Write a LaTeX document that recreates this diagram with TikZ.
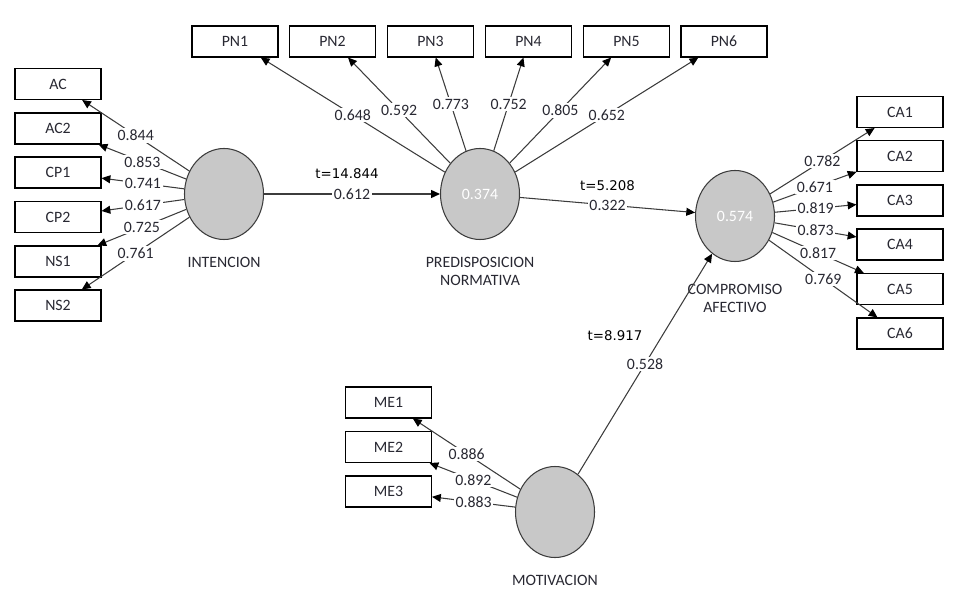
\documentclass[tikz,border=0pt]{standalone}
\usepackage{fontspec}
\setmainfont{Carlito}
\newfontfamily\tfont{DejaVu Sans}
\usepackage{xcolor}
\usetikzlibrary{shapes.geometric,arrows.meta,positioning}
\definecolor{latgray}{RGB}{200,200,200}
\definecolor{linegray}{RGB}{60,60,60}
\definecolor{textgray}{RGB}{40,40,50}

\begin{document}
\begin{tikzpicture}[
  ind/.style={rectangle, draw=black, line width=0.6pt, minimum width=1.72cm, minimum height=0.62cm, inner sep=0pt, text=textgray, font=\fontsize{9}{10}\selectfont},
  lat/.style={ellipse, draw=linegray, line width=0.6pt, fill=latgray, minimum width=1.58cm, minimum height=1.82cm, inner sep=0pt, text=white, font=\fontsize{9}{10}\selectfont},
  lname/.style={align=center, inner sep=1pt, text=textgray, font=\fontsize{9}{10.2}\selectfont},
  load/.style={-{Triangle[length=5pt,width=4.5pt,color=black]}, draw=linegray, line width=0.6pt},
  num/.style={fill=white, inner sep=1pt, text=textgray, font=\fontsize{9}{10}\selectfont},
  tval/.style={inner sep=1pt, text=black, font=\tfont\fontsize{7.6}{9}\selectfont}
]
\useasboundingbox (0,0) rectangle (19.26,-11.9);

% latent variables
\node[lat] (int) at (4.48,-3.88) {};
\node[lat] (pred) at (9.60,-3.88) {0.374};
\node[lat] (comp) at (14.70,-4.32) {0.574};
\node[lat] (mot) at (11.10,-10.24) {};
\node[lname, below=0.3cm of int] (intname) {INTENCION};
\node[lname, below=0.3cm of pred] (predname) {PREDISPOSICION\\NORMATIVA};
\node[lname, below=0.4cm of comp] (compname) {COMPROMISO\\AFECTIVO};
\node[lname, below=0.3cm of mot] (motname) {MOTIVACION};

% indicators
\node[ind] (ac) at (1.16,-1.68) {AC};
\node[ind] (ac2) at (1.16,-2.57) {AC2};
\node[ind] (cp1) at (1.16,-3.45) {CP1};
\node[ind] (cp2) at (1.16,-4.34) {CP2};
\node[ind] (ns1) at (1.16,-5.23) {NS1};
\node[ind] (ns2) at (1.16,-6.11) {NS2};

\node[ind] (pn1) at (4.70,-0.83) {PN1};
\node[ind] (pn2) at (6.65,-0.83) {PN2};
\node[ind] (pn3) at (8.61,-0.83) {PN3};
\node[ind] (pn4) at (10.57,-0.83) {PN4};
\node[ind] (pn5) at (12.53,-0.83) {PN5};
\node[ind] (pn6) at (14.48,-0.83) {PN6};

\node[ind] (ca1) at (18.00,-2.24) {CA1};
\node[ind] (ca2) at (18.00,-3.12) {CA2};
\node[ind] (ca3) at (18.00,-4.01) {CA3};
\node[ind] (ca4) at (18.00,-4.89) {CA4};
\node[ind] (ca5) at (18.00,-5.78) {CA5};
\node[ind] (ca6) at (18.00,-6.67) {CA6};

\node[ind] (me1) at (7.77,-8.05) {ME1};
\node[ind] (me2) at (7.77,-8.94) {ME2};
\node[ind] (me3) at (7.77,-9.83) {ME3};

% loadings
\draw[load] (int) -- node[num] {0.844} (ac);
\draw[load] (int) -- node[num] {0.853} (ac2);
\draw[load] (int) -- node[num] {0.741} (cp1);
\draw[load] (int) -- node[num] {0.617} (cp2);
\draw[load] (int) -- node[num] {0.725} (ns1);
\draw[load] (int) -- node[num] {0.761} (ns2);

\draw[load] (pred) -- node[num] {0.648} (pn1);
\draw[load] (pred) -- node[num] {0.592} (pn2);
\draw[load] (pred) -- node[num] {0.773} (pn3);
\draw[load] (pred) -- node[num] {0.752} (pn4);
\draw[load] (pred) -- node[num] {0.805} (pn5);
\draw[load] (pred) -- node[num] {0.652} (pn6);

\draw[load] (comp) -- node[num] {0.782} (ca1);
\draw[load] (comp) -- node[num] {0.671} (ca2);
\draw[load] (comp) -- node[num] {0.819} (ca3);
\draw[load] (comp) -- node[num] {0.873} (ca4);
\draw[load] (comp) -- node[num] {0.817} (ca5);
\draw[load] (comp) -- node[num] {0.769} (ca6);

\draw[load] (mot) -- node[num] {0.886} (me1);
\draw[load] (mot) -- node[num] {0.892} (me2);
\draw[load] (mot) -- node[num] {0.883} (me3);

% paths
\draw[load] (int) -- node[num] {0.612} node[tval, midway, xshift=-0.1cm, yshift=0.4cm] {t=14.844} (pred);
\draw[load] (pred) -- node[num] {0.322} node[tval, midway, yshift=0.38cm] {t=5.208} (comp);
\draw[load] (mot) -- node[num] {0.528} node[tval, midway, xshift=-0.6cm, yshift=0.56cm] {t=8.917} (comp);
\end{tikzpicture}
\end{document}
